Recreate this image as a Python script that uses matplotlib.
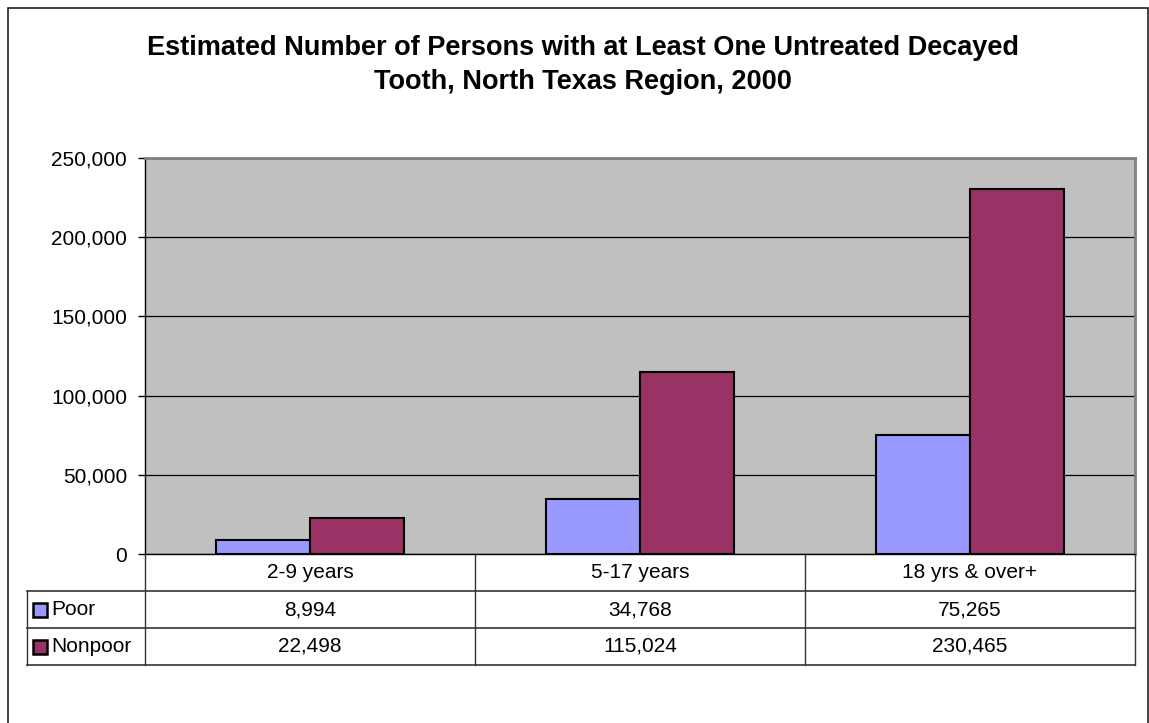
import numpy as np
import matplotlib.pyplot as plt
from matplotlib.patches import Rectangle
from matplotlib.transforms import blended_transform_factory

plt.rcParams['font.family'] = ['Liberation Sans', 'DejaVu Sans']

title_lines = ['Estimated Number of Persons with at Least One Untreated Decayed',
               'Tooth, North Texas Region, 2000']
categories = ['2-9 years', '5-17 years', '18 yrs & over+']
poor = [8994, 34768, 75265]
nonpoor = [22498, 115024, 230465]
series_names = ['Poor', 'Nonpoor']
series_colors = ['#9999FF', '#993366']
yticks = [0, 50000, 100000, 150000, 200000, 250000]

W, H = 1149, 723
fig = plt.figure(figsize=(W / 100, H / 100), dpi=100)

# outer chart border
fig.patches.append(Rectangle((8 / W, -0.05), 1140 / W, 1.05 - 8 / H,
                             transform=fig.transFigure, fill=False,
                             edgecolor='#222222', linewidth=1.2))

ax = fig.add_axes([145 / W, (H - 554) / H, 990 / W, 396 / H])
ax.set_facecolor('#C0C0C0')

x = np.arange(len(categories))
bw = 0.286
ax.bar(x - bw / 2, poor, bw, color=series_colors[0], edgecolor='black',
       linewidth=1.5, zorder=3)
ax.bar(x + bw / 2, nonpoor, bw, color=series_colors[1], edgecolor='black',
       linewidth=1.5, zorder=3)

ax.set_xlim(-0.5, len(categories) - 0.5)
ax.set_ylim(0, 250000)
ax.set_yticks(yticks)
ax.set_yticklabels(['{:,}'.format(v) for v in yticks], fontsize=15)
ax.tick_params(axis='y', length=5, width=1, pad=8)
ax.set_xticks([])
ax.grid(axis='y', color='black', linewidth=0.9, zorder=1)
ax.set_axisbelow(True)
for s in ['top', 'right']:
    ax.spines[s].set_color('#808080')
    ax.spines[s].set_linewidth(2)
ax.spines['left'].set_color('black')
ax.spines['left'].set_linewidth(1)
ax.spines['bottom'].set_color('black')
ax.spines['bottom'].set_linewidth(1)

# data table under the axis
tr = blended_transform_factory(ax.transData, ax.transAxes)
row_h = 37 / 396
n = len(categories)
left_x = -0.5 - 118 / 330  # legend column width in data units
rows = [categories, ['{:,}'.format(v) for v in poor],
        ['{:,}'.format(v) for v in nonpoor]]
lc = '#333333'
for r, vals in enumerate(rows):
    yc = -(r + 0.5) * row_h
    for i, v in enumerate(vals):
        ax.text(i, yc, v, transform=tr, ha='center', va='center',
                fontsize=15, clip_on=False)
# horizontal lines
for r in range(1, len(rows) + 1):
    ax.plot([left_x, n - 0.5], [-r * row_h] * 2, transform=tr, color=lc,
            linewidth=1.2, clip_on=False)
# vertical lines
for i in range(n + 1):
    ax.plot([i - 0.5] * 2, [0, -len(rows) * row_h], transform=tr, color=lc,
            linewidth=1.0, clip_on=False)
ax.plot([left_x] * 2, [-row_h, -len(rows) * row_h], transform=tr, color=lc,
        linewidth=1.0, clip_on=False)

# legend keys inside the table
for k, name in enumerate(series_names):
    yc = -(k + 1.5) * row_h
    ax.add_patch(Rectangle((left_x + 6 / 330, yc - 7 / 396), 14 / 330,
                           14 / 396, transform=tr, facecolor=series_colors[k],
                           edgecolor='black', linewidth=1.8, clip_on=False))
    ax.text(left_x + 24 / 330, yc, name, transform=tr, ha='left',
            va='center', fontsize=15, clip_on=False)

for k, line in enumerate(title_lines):
    fig.text(583 / W, 1 - (55 + 34 * k) / H, line, ha='center',
             va='baseline', fontsize=19.5, fontweight='bold')

fig.savefig('out.png', dpi=100)
